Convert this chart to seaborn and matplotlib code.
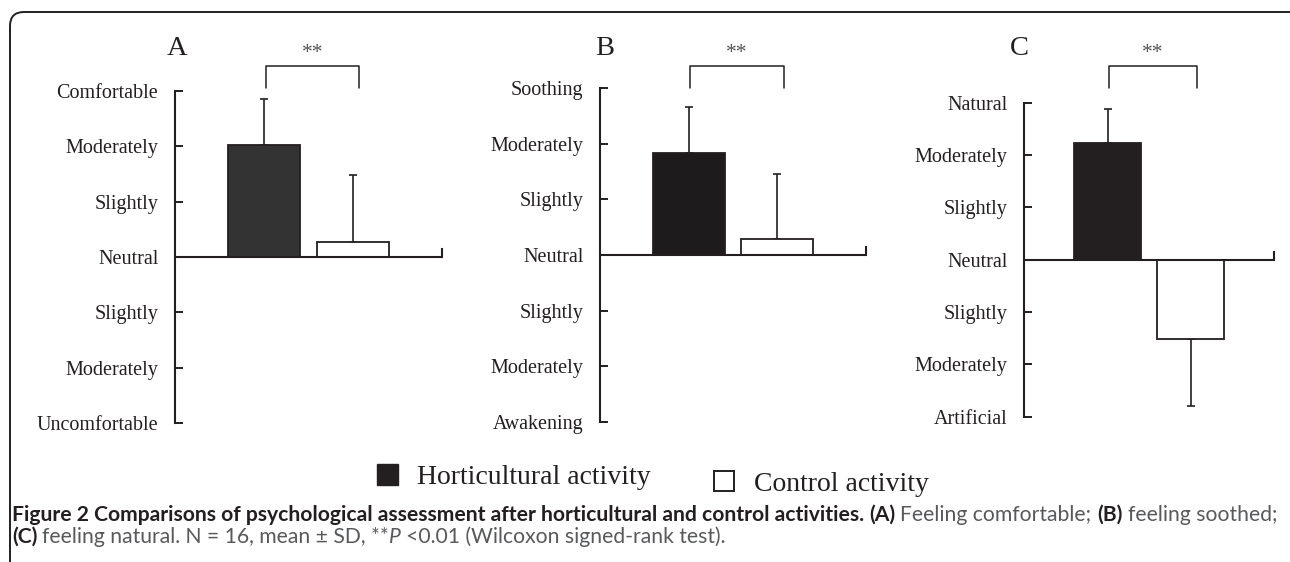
import numpy as np
import pandas as pd
import seaborn as sns
import matplotlib.pyplot as plt
from matplotlib.patches import FancyBboxPatch, Rectangle
from matplotlib.transforms import blended_transform_factory

# data (scale: -3 .. 3, 0 = Neutral)
panels = ["A", "B", "C"]
activities = ["Horticultural activity", "Control activity"]
mean_hort = [2.03, 1.84, 2.23]
sd_hort = [0.82, 0.83, 0.65]
mean_ctrl = [0.28, 0.28, -1.52]
sd_ctrl = [1.21, 1.17, 1.28]
tick_labels = [
    ["Uncomfortable", "Moderately", "Slightly", "Neutral", "Slightly", "Moderately", "Comfortable"],
    ["Awakening", "Moderately", "Slightly", "Neutral", "Slightly", "Moderately", "Soothing"],
    ["Artificial", "Moderately", "Slightly", "Neutral", "Slightly", "Moderately", "Natural"],
]
signif = ["**", "**", "**"]

sns.set_style("white")
plt.rcParams['font.family'] = ['Liberation Serif', 'DejaVu Serif']

INK = "#231f20"
W, H = 1290, 562
fig = plt.figure(figsize=(W / 100, H / 100), dpi=100)

# background axes in pixel units for frame, legend and caption
bg = fig.add_axes([0, 0, 1, 1], zorder=0)
bg.set_xlim(0, W)
bg.set_ylim(H, 0)
bg.axis("off")
bg.add_patch(FancyBboxPatch((10, 12), 1300, 700, boxstyle="round,pad=0,rounding_size=14",
                            fill=False, edgecolor=INK, lw=1.4))

# panel boxes in pixels: left, right, y at +3, y at -3
boxes = [(175, 442, 91, 423), (600, 866, 88.3, 421.7), (1024.3, 1274, 102.7, 416.7)]
hort_fill = ["#333333", "#1d1b1b", "#231f20"]
letter_x = [177, 605, 1019]

for i, p in enumerate(panels):
    x0, x1, ytop, ybot = boxes[i]
    ax = fig.add_axes([x0 / W, 1 - ybot / H, (x1 - x0) / W, (ybot - ytop) / H], zorder=1)
    ax.set_facecolor("none")
    df = pd.DataFrame({"activity": activities, "score": [mean_hort[i], mean_ctrl[i]]})
    sns.barplot(data=df, x="activity", y="score", hue="activity", order=activities,
                palette=[hort_fill[i], "white"], width=0.81, edgecolor=INK, linewidth=1.3,
                saturation=1, errorbar=None, legend=False, ax=ax, zorder=2)
    # one-sided SD error bars
    sds = [sd_hort[i], sd_ctrl[i]]
    for bar, m, s in zip(ax.patches, df["score"], sds):
        cx = bar.get_x() + bar.get_width() / 2
        yerr = [[0], [s]] if m >= 0 else [[s], [0]]
        ax.errorbar(cx, m, yerr=yerr, fmt="none", ecolor=INK, elinewidth=1.2,
                    capsize=3, capthick=1.2, zorder=1)
    ax.set_xlim(-1, 2)
    ax.set_ylim(-3, 3)
    ax.set_xlabel("")
    ax.set_ylabel("")
    ax.set_xticks([])
    ax.set_yticks(range(-3, 4))
    ax.set_yticklabels(tick_labels[i], fontsize=14.5, color=INK)
    ax.tick_params(axis="y", direction="in", length=6, width=1.4, pad=12, colors=INK,
                   labelcolor=INK, left=True, right=False)
    for side in ["top", "bottom"]:
        ax.spines[side].set_visible(False)
    ax.spines["left"].set_linewidth(1.5)
    ax.spines["left"].set_color(INK)
    ax.spines["right"].set_bounds(0, 0.14)
    ax.spines["right"].set_linewidth(1.5)
    ax.spines["right"].set_color(INK)
    ax.axhline(0, color=INK, lw=1.5, zorder=3)

    # significance bracket above the bars (y in pixels)
    tr = blended_transform_factory(ax.transData, bg.transData)
    cxs = [b.get_x() + b.get_width() / 2 for b in ax.patches[:2]]
    bx0, bx1 = cxs[0] + 0.02, cxs[1] + 0.07
    ax.plot([bx0, bx0, bx1, bx1], [88.3, 66.3, 66.3, 88.3], color=INK, lw=1.1,
            transform=tr, clip_on=False)
    ax.text((bx0 + bx1) / 2, 58, signif[i], transform=tr, ha="center", va="baseline",
            fontsize=15.5, color="#555555")
    bg.text(letter_x[i], 55, p, ha="center", va="baseline", fontsize=20.5, color=INK)

# legend
bg.add_patch(Rectangle((377, 464), 21, 21, facecolor=INK, edgecolor=INK, lw=1))
bg.text(417, 484, activities[0], fontsize=20, color=INK, va="baseline")
bg.add_patch(Rectangle((714, 471), 20, 20, facecolor="white", edgecolor=INK, lw=1.4))
bg.text(754, 491, activities[1], fontsize=20, color=INK, va="baseline")

# caption, drawn as runs of mixed style
renderer = fig.canvas.get_renderer()
SANS = ["Lato", "DejaVu Sans"]
BOLD_C, NORM_C = "#231f20", "#58595b"
line1 = [("Figure 2 Comparisons of psychological assessment after horticultural and control activities. ", "bold", "normal", BOLD_C),
         ("(A) ", "bold", "normal", BOLD_C),
         ("Feeling comfortable; ", "normal", "normal", NORM_C),
         ("(B) ", "bold", "normal", BOLD_C),
         ("feeling soothed;", "normal", "normal", NORM_C)]
line2 = [("(C) ", "bold", "normal", BOLD_C),
         ("feeling natural. N = 16, mean \u00b1 SD, **", "normal", "normal", NORM_C),
         ("P ", "normal", "italic", NORM_C),
         ("<0.01 (Wilcoxon signed-rank test).", "normal", "normal", NORM_C)]


def measure(s, size, weight, style):
    t = bg.text(0, 0, s, fontsize=size, fontweight=weight, fontstyle=style, family=SANS)
    w = t.get_window_extent(renderer).width
    t.remove()
    return w


def run_width(runs, size):
    total = 0
    for s, wt, st, c in runs:
        total += measure(s.rstrip(), size, wt, st)
        if s.endswith(" "):
            total += measure("x x", size, wt, st) - measure("xx", size, wt, st)
    return total


def draw_runs(x, y, runs, size):
    for s, wt, st, c in runs:
        core = s.rstrip()
        bg.text(x, y, core, fontsize=size, fontweight=wt, fontstyle=st, color=c,
                family=SANS, va="baseline", ha="left")
        x += measure(core, size, wt, st)
        if s.endswith(" "):
            x += measure("x x", size, wt, st) - measure("xx", size, wt, st)


cap_size = 10.0 * (1271 / run_width(line1, 10.0))
draw_runs(12, 521, line1, cap_size)
draw_runs(12, 543, line2, cap_size)

fig.savefig("out.png", dpi=100)
